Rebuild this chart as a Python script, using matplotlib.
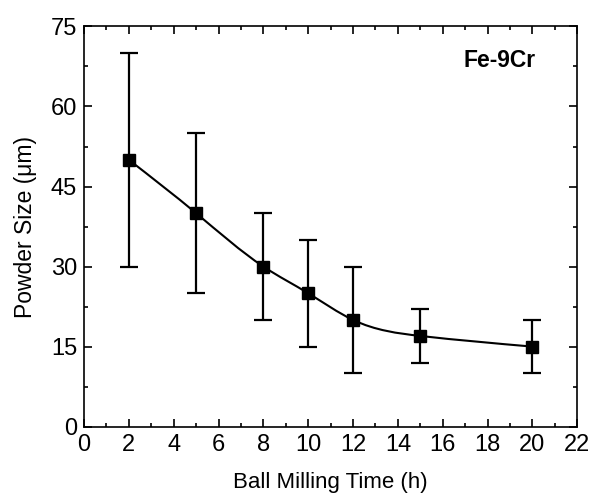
import numpy as np
import matplotlib
matplotlib.use("Agg")
import matplotlib.pyplot as plt
from matplotlib.path import Path
from matplotlib.patches import PathPatch
from matplotlib.ticker import MultipleLocator

plt.rcParams['font.family'] = ['Liberation Sans', 'DejaVu Sans']

milling_time = [2, 5, 8, 10, 12, 15, 20]
powder_size = [50, 40, 30, 25, 20, 17, 15]
size_err = [20, 15, 10, 10, 10, 5, 5]

fig, ax = plt.subplots(figsize=(5.92, 4.99), dpi=100)
fig.subplots_adjust(left=0.142, right=0.975, top=0.947, bottom=0.145)

# smooth connecting line: natural cubic spline drawn as Bezier segments
x = np.asarray(milling_time, float)
y = np.asarray(powder_size, float)
n = len(x)
h = np.diff(x)
sec = np.diff(y) / h
A = np.zeros((n, n))
b = np.zeros(n)
A[0, 0], A[0, 1], b[0] = 2, 1, 3 * sec[0]
A[-1, -2], A[-1, -1], b[-1] = 1, 2, 3 * sec[-1]
for i in range(1, n - 1):
    A[i, i - 1] = h[i]
    A[i, i] = 2 * (h[i - 1] + h[i])
    A[i, i + 1] = h[i - 1]
    b[i] = 3 * (h[i] * sec[i - 1] + h[i - 1] * sec[i])
slope = np.linalg.solve(A, b)
verts = [(x[0], y[0])]
codes = [Path.MOVETO]
for i in range(n - 1):
    verts += [(x[i] + h[i] / 3, y[i] + slope[i] * h[i] / 3),
              (x[i + 1] - h[i] / 3, y[i + 1] - slope[i + 1] * h[i] / 3),
              (x[i + 1], y[i + 1])]
    codes += [Path.CURVE4] * 3
ax.add_patch(PathPatch(Path(verts, codes), facecolor='none', edgecolor='black', lw=1.5, zorder=2))

ax.errorbar(milling_time, powder_size, yerr=size_err, fmt='s', color='black',
            ms=8, capsize=6.5, elinewidth=1.6, capthick=1.6, zorder=3)

ax.set_xlim(0, 22)
ax.set_ylim(0, 75)
ax.xaxis.set_major_locator(MultipleLocator(2))
ax.xaxis.set_minor_locator(MultipleLocator(1))
ax.yaxis.set_major_locator(MultipleLocator(15))
ax.yaxis.set_minor_locator(MultipleLocator(7.5))
ax.tick_params(which='both', direction='in', top=True, right=True, width=1.2)
ax.tick_params(which='major', length=6, labelsize=17, pad=5)
ax.tick_params(which='minor', length=3)
for s in ax.spines.values():
    s.set_linewidth(1.2)

ax.set_xlabel('Ball Milling Time (h)', fontsize=16, labelpad=12)
ax.set_ylabel('Powder Size (\u03bcm)', fontsize=16.5, labelpad=10)
ax.text(0.915, 0.915, 'Fe-9Cr', transform=ax.transAxes, ha='right', va='center',
        fontsize=16.5, fontweight='bold')

fig.savefig('out.png', dpi=100)
